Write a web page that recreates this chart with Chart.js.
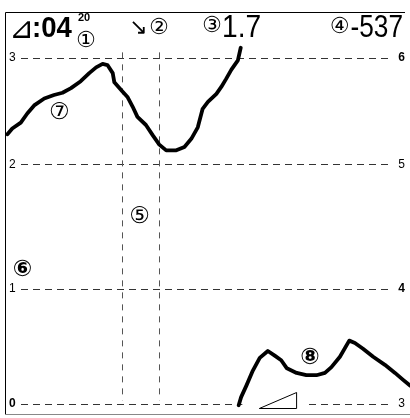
<!DOCTYPE html>
<html>
<head>
<meta charset="utf-8">
<script src="https://cdn.jsdelivr.net/npm/chart.js@4.4.1/dist/chart.umd.min.js"></script>
<style>
  html, body { margin: 0; padding: 0; background: #fff; }
  canvas { display: block; }
</style>
</head>
<body>
<canvas id="scope" width="410" height="418"></canvas>
<script>
// levels of the dashed horizontal lines, with the labels shown at each end
const gridLevels = [0, 1, 2.08, 3];
const leftLabels = ["0", "1", "2", "3"];
const rightLabels = ["3", "4", "5", "6"];

// the two vertical cursor lines
const cursorX = [28.9, 38.1];

// upper trace (7)
const upperX = [0.6, 1.8, 3.9, 5.5, 7.2, 9.7, 12.1, 14.2, 16.3, 18.7, 20.8, 22.5, 24.1, 25.3, 26.6, 27.0,
    29.0, 30.3, 31.5, 32.7, 34.8, 36.5, 38.1, 39.8, 42.3, 44.3, 46.0, 47.6, 48.8, 50.1, 52.2, 53.4,
    54.6, 55.9, 57.5, 58.2];
const upperY = [2.34, 2.39, 2.44, 2.52, 2.59, 2.65, 2.68, 2.70, 2.74, 2.80, 2.87, 2.92, 2.95, 2.94, 2.87, 2.79,
    2.71, 2.66, 2.58, 2.49, 2.42, 2.33, 2.25, 2.20, 2.20, 2.23, 2.30, 2.40, 2.56, 2.62, 2.69, 2.75,
    2.82, 2.90, 2.98, 3.09];

// lower trace (8)
const lowerX = [57.7, 58.3, 59.6, 61.2, 62.9, 64.9, 66.6, 68.2, 69.6, 72.0, 74.4, 76.9, 79.0, 80.6, 82.7,
    85.0, 86.4, 88.4, 90.9, 93.8, 96.3, 98.3, 100];
const lowerY = [-0.01, 0.06, 0.16, 0.29, 0.40, 0.46, 0.42, 0.38, 0.31, 0.27, 0.25, 0.25, 0.27, 0.32, 0.41,
    0.55, 0.53, 0.48, 0.41, 0.34, 0.27, 0.21, 0.16];

// header readouts
const timeText = ":04";
const timeSup = "20";
const readout3 = "1.7";
const readout4 = "-537";

// circled callouts: label, x, y
const calloutText = ["⑤", "⑥", "⑦", "⑧"];
const calloutX = [33.2, 4.3, 13.4, 75.3];
const calloutY = [1.62, 1.16, 2.52, 0.40];
const calloutBold = [false, true, false, true];

function toPoints(xs, ys) {
    return xs.map((x, i) => ({ x: x, y: ys[i] }));
}

const SANS = "'Liberation Sans', Arial, sans-serif";
const SYM = "'DejaVu Sans', sans-serif";

// narrow, tall header numbers
function narrowText(ctx, text, x, y, align, sx) {
    ctx.save();
    ctx.translate(x, y);
    ctx.scale(sx, 1);
    ctx.textAlign = align;
    ctx.fillText(text, 0, 0);
    const w = ctx.measureText(text).width * sx;
    ctx.restore();
    return w;
}

const scopeOverlay = {
    id: "scopeOverlay",
    beforeDatasetsDraw(chart) {
        const { ctx, chartArea: a, scales: { x, y } } = chart;
        ctx.save();

        // frame: left and top black, bottom gray
        ctx.lineWidth = 1;
        ctx.strokeStyle = "#000";
        ctx.beginPath();
        ctx.moveTo(a.left + 0.5, a.bottom);
        ctx.lineTo(a.left + 0.5, a.top + 0.5);
        ctx.lineTo(a.right - 5, a.top + 0.5);
        ctx.stroke();
        ctx.strokeStyle = "#888";
        ctx.beginPath();
        ctx.moveTo(a.left, a.bottom - 0.5);
        ctx.lineTo(a.right, a.bottom - 0.5);
        ctx.stroke();

        // horizontal dashed levels
        ctx.strokeStyle = "#333";
        ctx.setLineDash([7, 5]);
        gridLevels.forEach((v) => {
            const py = Math.round(y.getPixelForValue(v)) + 0.5;
            ctx.beginPath();
            ctx.moveTo(a.left + 16, py);
            ctx.lineTo(a.right - 18, py);
            ctx.stroke();
        });

        // vertical cursors
        ctx.strokeStyle = "#555";
        ctx.setLineDash([6, 6]);
        const top = y.getPixelForValue(3.05);
        const bot = y.getPixelForValue(0.03);
        cursorX.forEach((v) => {
            const px = Math.round(x.getPixelForValue(v)) + 0.5;
            ctx.beginPath();
            ctx.moveTo(px, top);
            ctx.lineTo(px, bot);
            ctx.stroke();
        });
        ctx.setLineDash([]);

        // level labels
        ctx.fillStyle = "#000";
        ctx.textBaseline = "middle";
        gridLevels.forEach((v, i) => {
            const py = y.getPixelForValue(v);
            ctx.textAlign = "left";
            ctx.font = (i === 0 ? "bold " : "") + "12px " + SANS;
            ctx.fillText(leftLabels[i], a.left + 4, py);
            ctx.textAlign = "right";
            ctx.font = (i === 1 || i === 3 ? "bold " : "") + "12px " + SANS;
            ctx.fillText(rightLabels[i], a.right - 5, py);
        });

        // triangle marker on the zero line, with a blank behind it
        const bx0 = x.getPixelForValue(58.6), bx1 = x.getPixelForValue(75.0);
        const y0 = y.getPixelForValue(0);
        ctx.fillStyle = "#fff";
        ctx.fillRect(bx0, y0 - 4, bx1 - bx0, 8);
        const tx0 = x.getPixelForValue(62.8), tx1 = x.getPixelForValue(72.0);
        const ty0 = Math.round(y.getPixelForValue(-0.03)) + 0.5;
        const ty1 = y.getPixelForValue(0.1);
        ctx.strokeStyle = "#000";
        ctx.beginPath();
        ctx.moveTo(tx0, ty0);
        ctx.lineTo(tx1, ty1);
        ctx.lineTo(tx1, ty0);
        ctx.closePath();
        ctx.stroke();
        ctx.restore();
    },
    afterDatasetsDraw(chart) {
        const { ctx, scales: { x, y } } = chart;
        ctx.save();
        ctx.fillStyle = "#000";
        ctx.textBaseline = "alphabetic";
        ctx.textAlign = "left";

        // header readouts
        ctx.font = "30px " + SYM;
        ctx.fillText("⊿", 9, 38);
        ctx.font = "bold 29px " + SANS;
        narrowText(ctx, timeText, 32, 37, "left", 0.95);
        ctx.font = "bold 11px " + SANS;
        ctx.fillText(timeSup, 78, 21);
        ctx.font = "22px " + SYM;
        ctx.fillText("①", 76, 47);
        ctx.fillText("↘", 129, 34);
        ctx.fillText("②", 149, 34);
        ctx.fillText("③", 202, 32);
        ctx.font = "32px " + SANS;
        narrowText(ctx, readout3, 222, 37, "left", 0.88);
        const w4 = narrowText(ctx, readout4, 403, 37, "right", 0.82);
        ctx.font = "22px " + SYM;
        ctx.textAlign = "right";
        ctx.fillText("④", 402 - w4, 33);

        // circled callouts
        ctx.textAlign = "center";
        ctx.textBaseline = "middle";
        calloutText.forEach((t, i) => {
            ctx.font = (calloutBold[i] ? "bold " : "") + "23px " + SYM;
            ctx.fillText(t, x.getPixelForValue(calloutX[i]), y.getPixelForValue(calloutY[i]));
        });
        ctx.restore();
    }
};

const traceStyle = {
    borderColor: "#000",
    borderWidth: 3.8,
    pointRadius: 0,
    tension: 0,
    borderJoinStyle: "round",
    borderCapStyle: "round",
    fill: false
};

new Chart(document.getElementById("scope").getContext("2d"), {
    type: "line",
    data: {
        datasets: [
            { label: "7", data: toPoints(upperX, upperY), ...traceStyle },
            { label: "8", data: toPoints(lowerX, lowerY), ...traceStyle }
        ]
    },
    options: {
        responsive: false,
        animation: false,
        devicePixelRatio: 1,
        layout: { padding: { left: 5, top: 12, right: 0, bottom: 3 } },
        plugins: { legend: { display: false }, tooltip: { enabled: false } },
        scales: {
            x: { type: "linear", min: 0, max: 100, display: false },
            y: { type: "linear", min: -0.095, max: 3.4, display: false }
        }
    },
    plugins: [scopeOverlay]
});
</script>
</body>
</html>
